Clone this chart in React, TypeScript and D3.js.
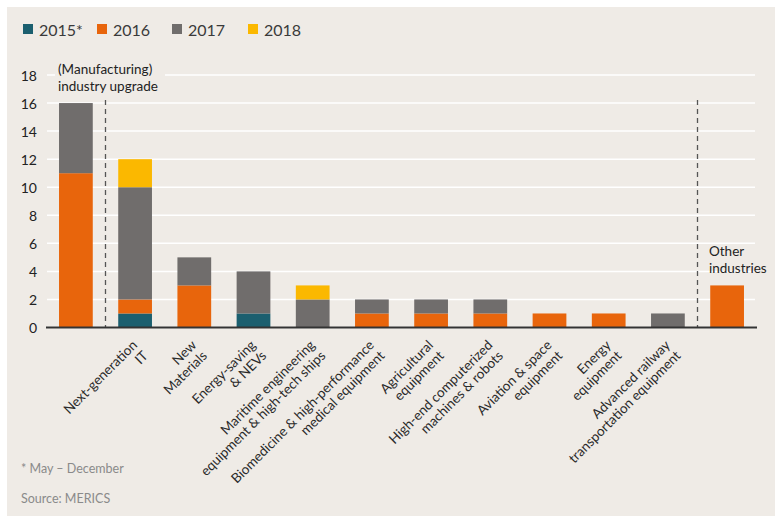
import React from "react";
import * as d3 from "d3";

const categories = [
  "Manufacturing industry upgrade",
  "Next-generation IT",
  "New Materials",
  "Energy-saving & NEVs",
  "Maritime engineering equipment & high-tech ships",
  "Biomedicine & high-performance medical equipment",
  "Agricultural equipment",
  "High-end computerized machines & robots",
  "Aviation & space equipment",
  "Energy equipment",
  "Advanced railway transportation equipment",
  "Other industries",
];

const xLabelLines: string[][] = [
  [],
  ["Next-generation", "IT"],
  ["New", "Materials"],
  ["Energy-saving", "& NEVs"],
  ["Maritime engineering", "equipment & high-tech ships"],
  ["Biomedicine & high-performance", "medical equipment"],
  ["Agricultural", "equipment"],
  ["High-end computerized", "machines & robots"],
  ["Aviation & space", "equipment"],
  ["Energy", "equipment"],
  ["Advanced railway", "transportation equipment"],
  [],
];

const seriesKeys = ["2015*", "2016", "2017", "2018"];
const values2015 = [0, 1, 0, 1, 0, 0, 0, 0, 0, 0, 0, 0];
const values2016 = [11, 1, 3, 0, 0, 1, 1, 1, 1, 1, 0, 3];
const values2017 = [5, 8, 2, 3, 2, 1, 1, 1, 0, 0, 1, 0];
const values2018 = [0, 2, 0, 0, 1, 0, 0, 0, 0, 0, 0, 0];
const yTicks = [0, 2, 4, 6, 8, 10, 12, 14, 16, 18];
const leftNote = ["(Manufacturing)", "industry upgrade"];
const rightNote = ["Other", "industries"];

const colors = ["#1b5f6f", "#e8650c", "#706d6c", "#fbb800"];
const FONT = "Lato, 'Open Sans', sans-serif";

export default function App() {
  const W = 775;
  const H = 518;
  const table = categories.map((c, i) => ({
    cat: c,
    "2015*": values2015[i],
    "2016": values2016[i],
    "2017": values2017[i],
    "2018": values2018[i],
  }));
  const stack = d3.stack<any>().keys(seriesKeys)(table);

  const x = d3
    .scaleBand<string>()
    .domain(categories)
    .range([46, 757])
    .paddingInner(0.43)
    .paddingOuter(0.22);
  const y = d3.scaleLinear().domain([0, 18]).range([327.5, 75]);

  const cx = (i: number) => (x(categories[i]) as number) + x.bandwidth() / 2;
  const div1 = (cx(0) + cx(1)) / 2;
  const div2 = (cx(10) + cx(11)) / 2;

  const legendX = [23, 97, 172, 248];

  return (
    <div style={{ position: "absolute", left: 0, top: 0 }}>
      <svg width={W} height={H} style={{ display: "block" }} fontFamily={FONT}>
        <rect x={0} y={0} width={W} height={H} fill="#ffffff" />
        <rect x={7} y={7} width={768} height={509} fill="#efebe6" />

        {/* legend */}
        {seriesKeys.map((k, i) => (
          <g key={k}>
            <rect x={legendX[i]} y={24} width={10} height={10} fill={colors[i]} />
            <text
              x={legendX[i] + 16}
              y={29}
              dominantBaseline="central"
              fontSize={16}
              fill="#3a3a3a"
            >
              {k}
            </text>
          </g>
        ))}

        {/* gridlines */}
        {yTicks.map((t) => (
          <line
            key={t}
            x1={47}
            x2={755}
            y1={y(t)}
            y2={y(t)}
            stroke="#ffffff"
            strokeWidth={1.5}
          />
        ))}

        {/* y tick labels */}
        {yTicks.map((t) => (
          <text
            key={t}
            x={37}
            y={y(t)}
            textAnchor="end"
            dominantBaseline="central"
            fontSize={14}
            fill="#222"
          >
            {t}
          </text>
        ))}

        {/* section annotations */}
        <rect x={55} y={61} width={110} height={34} fill="#efebe6" />
        <text x={58} y={74} fontSize={13.5} fill="#222">
          {leftNote.map((ln, j) => (
            <tspan key={j} x={58} dy={j === 0 ? 0 : 16.5}>
              {ln}
            </tspan>
          ))}
        </text>
        <text x={709} y={256} fontSize={13.5} fill="#222">
          {rightNote.map((ln, j) => (
            <tspan key={j} x={709} dy={j === 0 ? 0 : 16.5}>
              {ln}
            </tspan>
          ))}
        </text>

        {/* dashed separators */}
        {[div1, div2].map((dx, i) => (
          <line
            key={i}
            x1={dx}
            x2={dx}
            y1={100}
            y2={y(0)}
            stroke="#555"
            strokeWidth={1.3}
            strokeDasharray="5,4"
          />
        ))}

        {/* bars */}
        {stack.map((s, si) =>
          s.map((d, i) =>
            d[1] - d[0] > 0 ? (
              <rect
                key={si + "-" + i}
                x={x(categories[i])}
                y={y(d[1])}
                width={x.bandwidth()}
                height={y(d[0]) - y(d[1])}
                fill={colors[si]}
              />
            ) : null
          )
        )}

        {/* axis line */}
        <line x1={46} x2={757} y1={y(0)} y2={y(0)} stroke="#333" strokeWidth={2} />

        {/* x labels */}
        {xLabelLines.map((lines, i) =>
          lines.length ? (
            <g key={i} transform={`translate(${cx(i) + 3},${346}) rotate(-45)`}>
              <text textAnchor="end" fontSize={13.5} fill="#2a2a2a">
                {lines.map((ln, j) => (
                  <tspan key={j} x={0} dy={j === 0 ? 0 : 15}>
                    {ln}
                  </tspan>
                ))}
              </text>
            </g>
          ) : null
        )}

        {/* footnotes */}
        <text x={21} y={468} dominantBaseline="central" fontSize={12.5} fill="#8a8a8a">
          * May – December
        </text>
        <text x={21} y={498} dominantBaseline="central" fontSize={12.5} fill="#8a8a8a">
          Source: MERICS
        </text>
      </svg>
    </div>
  );
}
